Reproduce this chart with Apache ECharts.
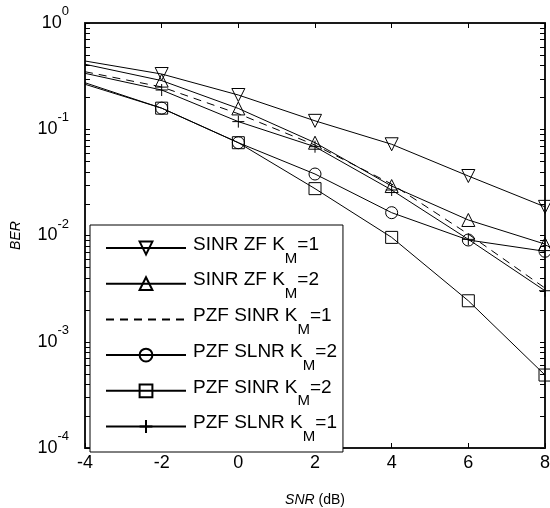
<!DOCTYPE html>
<html>
<head>
<meta charset="utf-8">
<script src="https://cdn.jsdelivr.net/npm/echarts@6/dist/echarts.min.js"></script>
<style>
  html, body { margin: 0; padding: 0; background: #fff; }
  #chart { width: 550px; height: 508px; }
</style>
</head>
<body>
<div id="chart"></div>
<script>
// SNR points (dB)
const snr = [-4, -2, 0, 2, 4, 6, 8];

// BER
const sinrZfK1 = [0.439, 0.331, 0.21, 0.12, 0.0722, 0.0363, 0.0186];
const sinrZfK2 = [0.409, 0.287, 0.157, 0.0747, 0.0292, 0.014, 0.0083];
const pzfSinrK1 = [0.348, 0.25, 0.14, 0.071, 0.0305, 0.0103, 0.0032];
const pzfSlnrK2 = [0.274, 0.158, 0.0747, 0.0379, 0.0164, 0.00907, 0.0071];
const pzfSinrK2 = [0.265, 0.158, 0.0747, 0.0276, 0.0096, 0.00243, 0.000486];
const pzfSlnrK1 = [0.336, 0.234, 0.118, 0.0685, 0.0268, 0.0092, 0.00302];

const seriesNames = [
  'SINR ZF K_M=1',
  'SINR ZF K_M=2',
  'PZF SINR K_M=1',
  'PZF SLNR K_M=2',
  'PZF SINR K_M=2',
  'PZF SLNR K_M=1'
];

const xTicks = [-4, -2, 0, 2, 4, 6, 8];
const yMinExp = -4, yMaxExp = 0;

const font = 'Liberation Sans, Arial, sans-serif';
const plusPath = 'path://M5,0L5,10M0,5L10,5';

const chart = echarts.init(document.getElementById('chart'));

// first point has no marker in the original
const pts = values => values.map((v, i) =>
  i === 0 ? { value: [snr[i], v], symbol: 'none' } : [snr[i], v]);

const lineSeries = (name, values, symbol, size, extra) => Object.assign({
  name: name,
  type: 'line',
  data: pts(values),
  symbol: symbol,
  symbolSize: size,
  lineStyle: { color: '#000', width: 1 },
  itemStyle: { color: 'rgba(0,0,0,0)', borderColor: '#000', borderWidth: 1 },
  emphasis: { disabled: true },
  silent: true
}, extra || {});

const axisLine = { onZero: false, lineStyle: { color: '#1a1a1a', width: 2 } };
const axisTick = { inside: true, length: 5, lineStyle: { color: '#000', width: 1 } };

chart.setOption({
  animation: false,
  backgroundColor: '#fff',
  grid: { left: 85, right: 5, top: 23, bottom: 60, outerBoundsMode: 'none', containLabel: false },
  xAxis: [
    {
      type: 'value', min: -4, max: 8, interval: 2, position: 'bottom',
      axisLine: axisLine, axisTick: axisTick, splitLine: { show: false },
      axisLabel: {
        fontSize: 18, color: '#000', fontFamily: font, margin: 6,
        showMinLabel: true, showMaxLabel: true
      },
      name: '{i|SNR} (dB)', nameLocation: 'middle', nameGap: 45,
      nameTextStyle: {
        fontSize: 14, color: '#000', fontFamily: font,
        rich: { i: { fontSize: 14, fontStyle: 'italic', fontFamily: font, color: '#000' } }
      }
    },
    {
      type: 'value', min: -4, max: 8, interval: 2, position: 'top',
      axisLine: axisLine, axisTick: axisTick, splitLine: { show: false },
      axisLabel: { show: false }
    }
  ],
  yAxis: [
    {
      type: 'log', logBase: 10, min: Math.pow(10, yMinExp), max: Math.pow(10, yMaxExp),
      position: 'left',
      axisLine: axisLine, axisTick: axisTick, splitLine: { show: false },
      axisLabel: {
        margin: 16, showMinLabel: true, showMaxLabel: true,
        formatter: v => '{b|10}{s|' + Math.round(Math.log10(v)) + '}',
        rich: {
          b: { fontSize: 18, lineHeight: 36, fontFamily: font, color: '#000' },
          s: { fontSize: 13, lineHeight: 13, verticalAlign: 'top', fontFamily: font, color: '#000' }
        }
      },
      name: 'BER', nameLocation: 'middle', nameGap: 62,
      nameTextStyle: { fontSize: 14, fontStyle: 'italic', color: '#000', fontFamily: font }
    },
    {
      type: 'log', logBase: 10, min: Math.pow(10, yMinExp), max: Math.pow(10, yMaxExp),
      position: 'right',
      axisLine: axisLine, axisTick: axisTick, splitLine: { show: false },
      axisLabel: { show: false }
    }
  ],
  legend: {
    orient: 'vertical', left: 90, top: 225,
    padding: [10, 6, 7.5, 15],
    borderColor: '#000', borderWidth: 1, backgroundColor: '#fff',
    itemWidth: 80, itemHeight: 16, itemGap: 4.7,
    data: seriesNames,
    formatter: name => {
      const parts = name.split('_M');
      return '{t0|' + parts[0] + '}{s|M}{t|' + parts[1] + '}';
    },
    textStyle: {
      padding: [0, 0, 8, 0],
      rich: {
        t0: { fontSize: 19, lineHeight: 18, verticalAlign: 'top', padding: [0, 0, 0, 2], fontFamily: font, color: '#000' },
        t: { fontSize: 19, lineHeight: 18, verticalAlign: 'top', fontFamily: font, color: '#000' },
        s: { fontSize: 15, lineHeight: 14, verticalAlign: 'top', padding: [16, 0, 0, 0], fontFamily: font, color: '#000' }
      }
    }
  },
  series: [
    lineSeries(seriesNames[0], sinrZfK1, 'triangle', 13, { symbolRotate: 180 }),
    lineSeries(seriesNames[1], sinrZfK2, 'triangle', 13),
    // dashed curve: marker kept invisible so the legend shows the bare line
    lineSeries(seriesNames[2], pzfSinrK1, 'circle', 1, {
      lineStyle: { color: '#000', width: 1, type: [8, 6] },
      itemStyle: { color: 'rgba(0,0,0,0)', borderColor: 'rgba(0,0,0,0)', borderWidth: 0 }
    }),
    lineSeries(seriesNames[3], pzfSlnrK2, 'circle', 12),
    lineSeries(seriesNames[4], pzfSinrK2, 'rect', 12),
    lineSeries(seriesNames[5], pzfSlnrK1, plusPath, 12)
  ]
});

// log minor ticks (2..9 per decade) on both side axes
const minorVals = [];
for (let e = yMinExp; e < yMaxExp; e++) {
  for (let m = 2; m <= 9; m++) minorVals.push(m * Math.pow(10, e));
}
const xl = chart.convertToPixel({ xAxisIndex: 0 }, xTicks[0]);
const xr = chart.convertToPixel({ xAxisIndex: 0 }, xTicks[xTicks.length - 1]);
const graphic = [];
minorVals.forEach(v => {
  const y = Math.round(chart.convertToPixel({ yAxisIndex: 0 }, v)) + 0.5;
  graphic.push({ type: 'line', silent: true, z: 10,
    shape: { x1: xl, y1: y, x2: xl + 5, y2: y }, style: { stroke: '#000', lineWidth: 1 } });
  graphic.push({ type: 'line', silent: true, z: 10,
    shape: { x1: xr - 5, y1: y, x2: xr, y2: y }, style: { stroke: '#000', lineWidth: 1 } });
});
chart.setOption({ graphic: graphic });
</script>
</body>
</html>
